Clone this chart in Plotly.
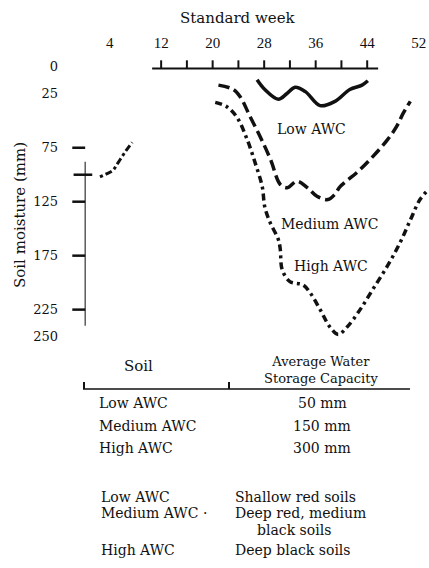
import plotly.graph_objects as go

# ---- data ----
low_week = [26.9, 28.1, 30.2, 31.5, 32.8, 34.4, 36.7, 39.0, 41.3, 43.2, 44.1]
low_mm = [12, 21, 30, 25, 19, 23, 36, 32, 21, 17, 13]

med_week = [20.9, 23.2, 24.3, 25.8, 27.4, 29.0, 30.5, 31.6, 33.1, 34.7, 36.2, 37.9, 39.0,
            39.8, 42.4, 44.9, 47.1, 48.6, 49.6, 50.7]
med_mm = [17, 21, 28, 46, 65, 86, 109, 112, 106, 112, 120, 123, 118, 111, 98, 83, 68, 55, 43, 32]

high_week = [20.4, 22.2, 23.8, 25.4, 26.6, 27.7, 28.1, 28.9, 30.2, 30.5, 30.8, 32.0, 34.0,
             35.1, 36.7, 38.2, 39.5, 40.9, 42.9, 44.9, 47.1, 49.1, 50.7, 52.2, 53.5]
high_mm = [33, 37, 47, 68, 89, 111, 130, 144, 160, 169, 188, 199, 202, 209, 225, 241, 248,
           241, 225, 206, 185, 163, 142, 123, 114]

start_week = [2.5, 3.6, 4.5, 5.3, 6.4, 7.5]
start_mm = [102, 99, 96, 89, 79, 70]

week_ticks = [12, 16, 20, 24, 28, 32, 36, 40, 44]
week_labels = [4, 12, 20, 28, 36, 44, 52]
mm_labels = [0, 25, 75, 125, 175, 225, 250]
mm_ticks = [75, 125, 175, 225]

soils = ["Low AWC", "Medium AWC", "High AWC"]
capacity = ["50 mm", "150 mm", "300 mm"]
soil_types = ["Shallow red soils", "Deep red, medium", "Deep black soils"]

FONT = "DejaVu Serif"
NUMFONT = "Liberation Serif"
INK = "#111111"

# ---- layout geometry ----
W, H = 429, 568
L, T, PW, PH = 71, 56, 358, 286


def px(x):
    return (x - L) / PW


def py(y):
    return (T + PH - y) / PH


fig = go.Figure()

# curves
fig.add_trace(go.Scatter(x=low_week, y=low_mm, mode="lines", line=dict(color=INK, width=3.5, shape="spline"),
                         showlegend=False))
fig.add_trace(go.Scatter(x=med_week, y=med_mm, mode="lines",
                         line=dict(color=INK, width=3.5, dash="11px,5px", shape="spline"), showlegend=False))
fig.add_trace(go.Scatter(x=high_week, y=high_mm, mode="lines",
                         line=dict(color=INK, width=3.5, dash="7px,4px,3px,4px", shape="spline"),
                         showlegend=False))
fig.add_trace(go.Scatter(x=start_week, y=start_mm, mode="lines",
                         line=dict(color=INK, width=3, dash="3px,3px,7px,3px", shape="spline"),
                         showlegend=False))

# top axis line and its ticks
fig.add_trace(go.Scatter(x=[10.6, 45.7], y=[1.5, 1.5], mode="lines", line=dict(color=INK, width=2),
                         showlegend=False))
tx, ty = [], []
for w in week_ticks:
    tx += [w, w, None]
    ty += [1.5, -6, None]
fig.add_trace(go.Scatter(x=tx, y=ty, mode="lines", line=dict(color=INK, width=2), showlegend=False))

# left axis line and ticks
fig.add_trace(go.Scatter(x=[0.2, 0.2], y=[88, 240], mode="lines", line=dict(color="#333333", width=1.2),
                         showlegend=False))
lx, ly = [], []
for m in mm_ticks:
    lx += [-1.8, 0.2, None]
    ly += [m, m, None]
lx += [-1.6, 1.3, None]
ly += [100, 100, None]
fig.add_trace(go.Scatter(x=lx, y=ly, mode="lines", line=dict(color=INK, width=2.5), showlegend=False))

annotations = []


def note(text, x, y, size=15, xanchor="center", yanchor="middle", family=FONT, **kw):
    annotations.append(dict(x=px(x), y=py(y), xref="paper", yref="paper", text=text, showarrow=False,
                            xanchor=xanchor, yanchor=yanchor,
                            font=dict(family=family, size=size, color=INK), **kw))


# in-plot curve labels
for txt, xw, ym in [("Low AWC", 35.4, 58), ("Medium AWC", 38.1, 146), ("High AWC", 38.4, 185)]:
    annotations.append(dict(x=xw, y=ym, xref="x", yref="y", text=txt, showarrow=False,
                            xanchor="center", yanchor="middle",
                            font=dict(family=FONT, size=14, color=INK)))

# titles
note("Standard week", 238, 18, size=15)
note("Soil moisture (mm)", 20, 215, size=15, textangle=-90)

# table header
note("Soil", 138, 366)
note("Average Water<br>Storage Capacity", 321, 370, size=13)

row_y = [403, 426, 448]
for s, c, yy in zip(soils, capacity, row_y):
    note(s, 97, yy, xanchor="left", size=14)
    note(c, 322, yy, size=14)

row2_y = [497, 513, 550]
names2 = ["Low AWC", "Medium AWC ·", "High AWC"]
for s, t, yy in zip(names2, soil_types, row2_y):
    note(s, 99, yy, xanchor="left", size=14)
    note(t, 233, yy, xanchor="left", size=14)
note("black soils", 255, 530, xanchor="left", size=14)

shapes = [
    dict(type="line", xref="paper", yref="paper", x0=px(83), x1=px(410), y0=py(389), y1=py(389),
         line=dict(color=INK, width=1.5)),
    dict(type="line", xref="paper", yref="paper", x0=px(84), x1=px(84), y0=py(389), y1=py(382),
         line=dict(color=INK, width=2)),
    dict(type="line", xref="paper", yref="paper", x0=px(229), x1=px(229), y0=py(389), y1=py(382),
         line=dict(color=INK, width=2)),
]

fig.update_layout(
    width=W, height=H,
    margin=dict(l=L, r=W - L - PW, t=T, b=H - T - PH),
    paper_bgcolor="white", plot_bgcolor="white",
    showlegend=False,
    annotations=annotations,
    shapes=shapes,
    xaxis=dict(range=[-2, 53.6], side="top", tickvals=week_labels, ticktext=[str(v) for v in week_labels],
               ticks="", showline=False, showgrid=False, zeroline=False, ticklabelstandoff=4,
               tickfont=dict(family=NUMFONT, size=15, color=INK)),
    yaxis=dict(range=[255, -10], tickvals=mm_labels, ticktext=[str(v) for v in mm_labels],
               ticks="", showline=False, showgrid=False, zeroline=False, ticklabelstandoff=12,
               tickfont=dict(family=FONT, size=13, color=INK)),
)

fig.write_html("out.html")
